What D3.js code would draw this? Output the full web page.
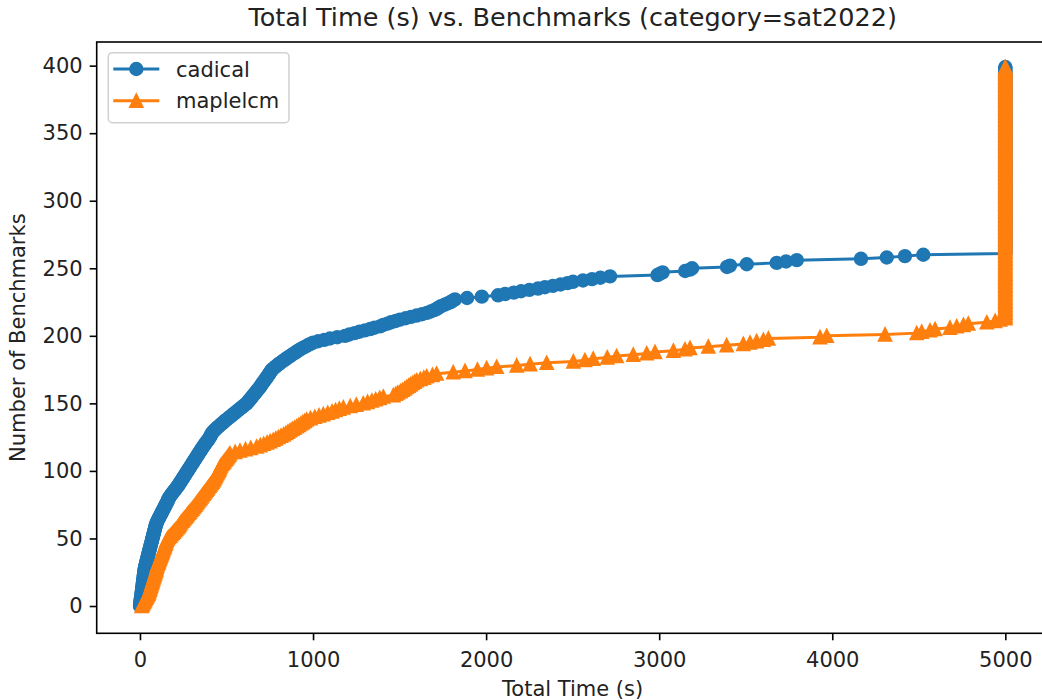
<!DOCTYPE html>
<html>
<head>
<meta charset="utf-8">
<script src="https://cdn.jsdelivr.net/npm/d3@7"></script>
<style>
  html, body { margin: 0; padding: 0; background: #fff; }
  svg { display: block; font-family: "DejaVu Sans", sans-serif; }
</style>
</head>
<body>
<svg id="chart" width="1042" height="700"></svg>
<script>
// ---- data (solved times in seconds, sorted; y = rank) ----
const seriesNames = ["cadical", "maplelcm"];
const timeLimit = 5000;

const cadicalSolvedTimes = [
  0,1,2,3,4,5,6,7,8,9,10,11,12,13,14,15,16,17,18,19,20,21,22,23,24,25,26,27,28,30,
  32,34,36,38,40,42,44,46,48,50,52,54,56,58,60,62,64,66,68,70,72,
  74,76,78,80,82,84,86,88,90,92,95,
  98,101,105,109,113,117,121,125,129,133,137,141,145,149,153,157,161,
  163,168,173,178,184,190,196,202,208,214,220,225,230,235,240,245,250,255,
  260,265,270,275,280,285,290,295,300,305,310,315,320,325,330,335,340,
  345,350,355,360,366,371,376,382,388,394,399,404,408,412,416,
  422,430,438,446,455,464,473,482,491,500,510,520,
  530,539,549,558,568,578,588,597,607,617,
  623,629,636,642,649,655,661,668,674,680,687,693,
  698,703,709,714,720,726,731,737,742,747,752,758,763,
  772,782,791,801,811,822,833,844,855,867,
  878,890,902,914,925,940,955,970,985,1000,
  1030,1065,1098,1140,1185,1210,1240,1268,1300,1330,1355,1387,1405,1430,1450,
  1478,1502,1535,1566,1598,1630,1658,1680,1700,1715,1728,1739,
  1760,1778,1795,1808,1820,1890,1975,2069,2110,2160,2202,2250,2300,2340,2386,
  2430,2470,2502,2560,2612,2660,2716,2990,3005,3020,3150,3178,3190,3392,3409,
  3506,3679,3733,3795,4166,4315,4420,4526
];
const cadicalTimeouts = 139;

const maplelcmSolvedTimes = [
  10,14,18,23,27,31,35,39,44,48,
  51,53,56,58,61,63,66,68,71,73,76,78,81,83,86,88,91,93,95,96,
  99,102,105,108,111,114,117,120,123,126,129,132,135,138,141,144,147,149,152,154,
  160,167,174,181,188,195,202,209,216,222,227,231,
  237,244,250,257,263,270,276,282,289,295,302,308,
  314,320,326,331,337,343,349,355,360,366,
  372,378,384,390,395,401,407,413,418,424,
  428,432,436,440,444,449,453,457,460,462,
  468,474,480,486,492,498,504,510,515,520,
  550,578,610,640,674,695,715,735,752,770,
  785,800,815,830,843,855,867,880,893,906,918,930,941,952,963,
  985,1010,1035,1059,1085,1110,1130,1152,1175,1215,1250,1290,
  1315,1340,1362,1385,1406,1464,1478,1490,1505,1518,1530,1541,
  1552,1563,1575,1587,1599,1620,1640,
  1657,1690,1714,1810,1878,1950,2003,2061,2177,2254,2350,2504,2571,2619,2700,
  2754,2850,2928,2976,3082,3149,3178,3284,3390,3486,3525,3563,3602,3631,3929,
  3968,4305,4488,4517,4565,4594,4680,4719,4758,4786,4893,4941,4970
];
const maplelcmTimeouts = 187;

const xTicks = [0, 1000, 2000, 3000, 4000, 5000];
const yTicks = [0, 50, 100, 150, 200, 250, 300, 350, 400];
const colors = ["#1f77b4", "#ff7f0e"];

// build series (time, rank)
function buildSeries(solved, timeouts) {
  const times = solved.concat(Array(timeouts).fill(timeLimit));
  return times.map((t, i) => ({ x: t, y: i }));
}
const series = [
  { name: seriesNames[0], color: colors[0], marker: "circle", data: buildSeries(cadicalSolvedTimes, cadicalTimeouts) },
  { name: seriesNames[1], color: colors[1], marker: "triangle", data: buildSeries(maplelcmSolvedTimes, maplelcmTimeouts) }
];

// ---- layout ----
const svg = d3.select("#chart");
const L = 96.7, R = 1048.6, T = 42, B = 633.3;
const x = d3.scaleLinear().domain([-250, 5250]).range([L, R]);
const y = d3.scaleLinear().domain([-20.2, 417.5]).range([B, T]);

const defs = svg.append("defs");
defs.append("clipPath").attr("id", "clip")
  .append("rect").attr("x", L).attr("y", T).attr("width", R - L).attr("height", B - T);

const plot = svg.append("g").attr("clip-path", "url(#clip)");

const line = d3.line().x(d => x(d.x)).y(d => y(d.y));
const triPath = "M0,-6.2L6.2,6.2L-6.2,6.2Z";

series.forEach(s => {
  plot.append("path").datum(s.data)
    .attr("fill", "none").attr("stroke", s.color).attr("stroke-width", 3)
    .attr("stroke-linejoin", "round").attr("stroke-linecap", "square")
    .attr("d", line);
  const g = svg.append("g");
  if (s.marker === "circle") {
    g.selectAll("circle").data(s.data).join("circle")
      .attr("cx", d => x(d.x)).attr("cy", d => y(d.y)).attr("r", 6.2)
      .attr("fill", s.color).attr("stroke", s.color).attr("stroke-width", 2);
  } else {
    g.selectAll("path").data(s.data).join("path")
      .attr("transform", d => `translate(${x(d.x)},${y(d.y)})`)
      .attr("d", triPath)
      .attr("fill", s.color).attr("stroke", s.color).attr("stroke-width", 2)
      .attr("stroke-linejoin", "miter");
  }
});

// ---- axes ----
const xAxis = d3.axisBottom(x).tickValues(xTicks).tickSize(7).tickPadding(7).tickFormat(d3.format("d"));
const yAxis = d3.axisLeft(y).tickValues(yTicks).tickSize(7).tickPadding(7).tickFormat(d3.format("d"));

const gx = svg.append("g").attr("transform", `translate(0,${B})`).call(xAxis);
const gy = svg.append("g").attr("transform", `translate(${L},0)`).call(yAxis);
[gx, gy].forEach(g => {
  g.select(".domain").remove();
  g.selectAll(".tick line").attr("stroke", "#000").attr("stroke-width", 1.6);
  g.selectAll(".tick text").attr("fill", "#222").style("font-size", "21px").style("font-family", "DejaVu Sans");
});
gx.selectAll(".tick text").attr("dy", "0.92em");

// spines
const sp = svg.append("g").attr("stroke", "#000").attr("stroke-width", 1.6).attr("fill", "none");
sp.append("rect").attr("x", L).attr("y", T).attr("width", R - L).attr("height", B - T);

// title and labels
svg.append("text").attr("x", (L + R) / 2).attr("y", 26).attr("text-anchor", "middle")
  .style("font-size", "25.5px").attr("fill", "#222").text("Total Time (s) vs. Benchmarks (category=sat2022)");
svg.append("text").attr("x", (L + R) / 2).attr("y", 696).attr("text-anchor", "middle")
  .style("font-size", "21px").attr("fill", "#222").text("Total Time (s)");
svg.append("text").attr("transform", `translate(25,${(T + B) / 2}) rotate(-90)`).attr("text-anchor", "middle")
  .style("font-size", "21px").attr("fill", "#222").text("Number of Benchmarks");

// legend
const lg = svg.append("g");
lg.append("rect").attr("x", 108.3).attr("y", 52.7).attr("width", 180.7).attr("height", 70)
  .attr("rx", 4).attr("fill", "#fff").attr("fill-opacity", 0.8).attr("stroke", "#d0d0d0").attr("stroke-width", 1.5);
series.forEach((s, i) => {
  const cy = 69 + i * 31.7;
  lg.append("line").attr("x1", 113.3).attr("x2", 159.3).attr("y1", cy).attr("y2", cy)
    .attr("stroke", s.color).attr("stroke-width", 3);
  if (s.marker === "circle") {
    lg.append("circle").attr("cx", 136.3).attr("cy", cy).attr("r", 6.2).attr("fill", s.color).attr("stroke", s.color).attr("stroke-width", 2);
  } else {
    lg.append("path").attr("transform", `translate(136.3,${cy})`).attr("d", triPath).attr("fill", s.color).attr("stroke", s.color).attr("stroke-width", 2);
  }
  lg.append("text").attr("x", 176).attr("y", cy + 7.5).style("font-size", "21px").attr("fill", "#222").text(s.name);
});
</script>
</body>
</html>
